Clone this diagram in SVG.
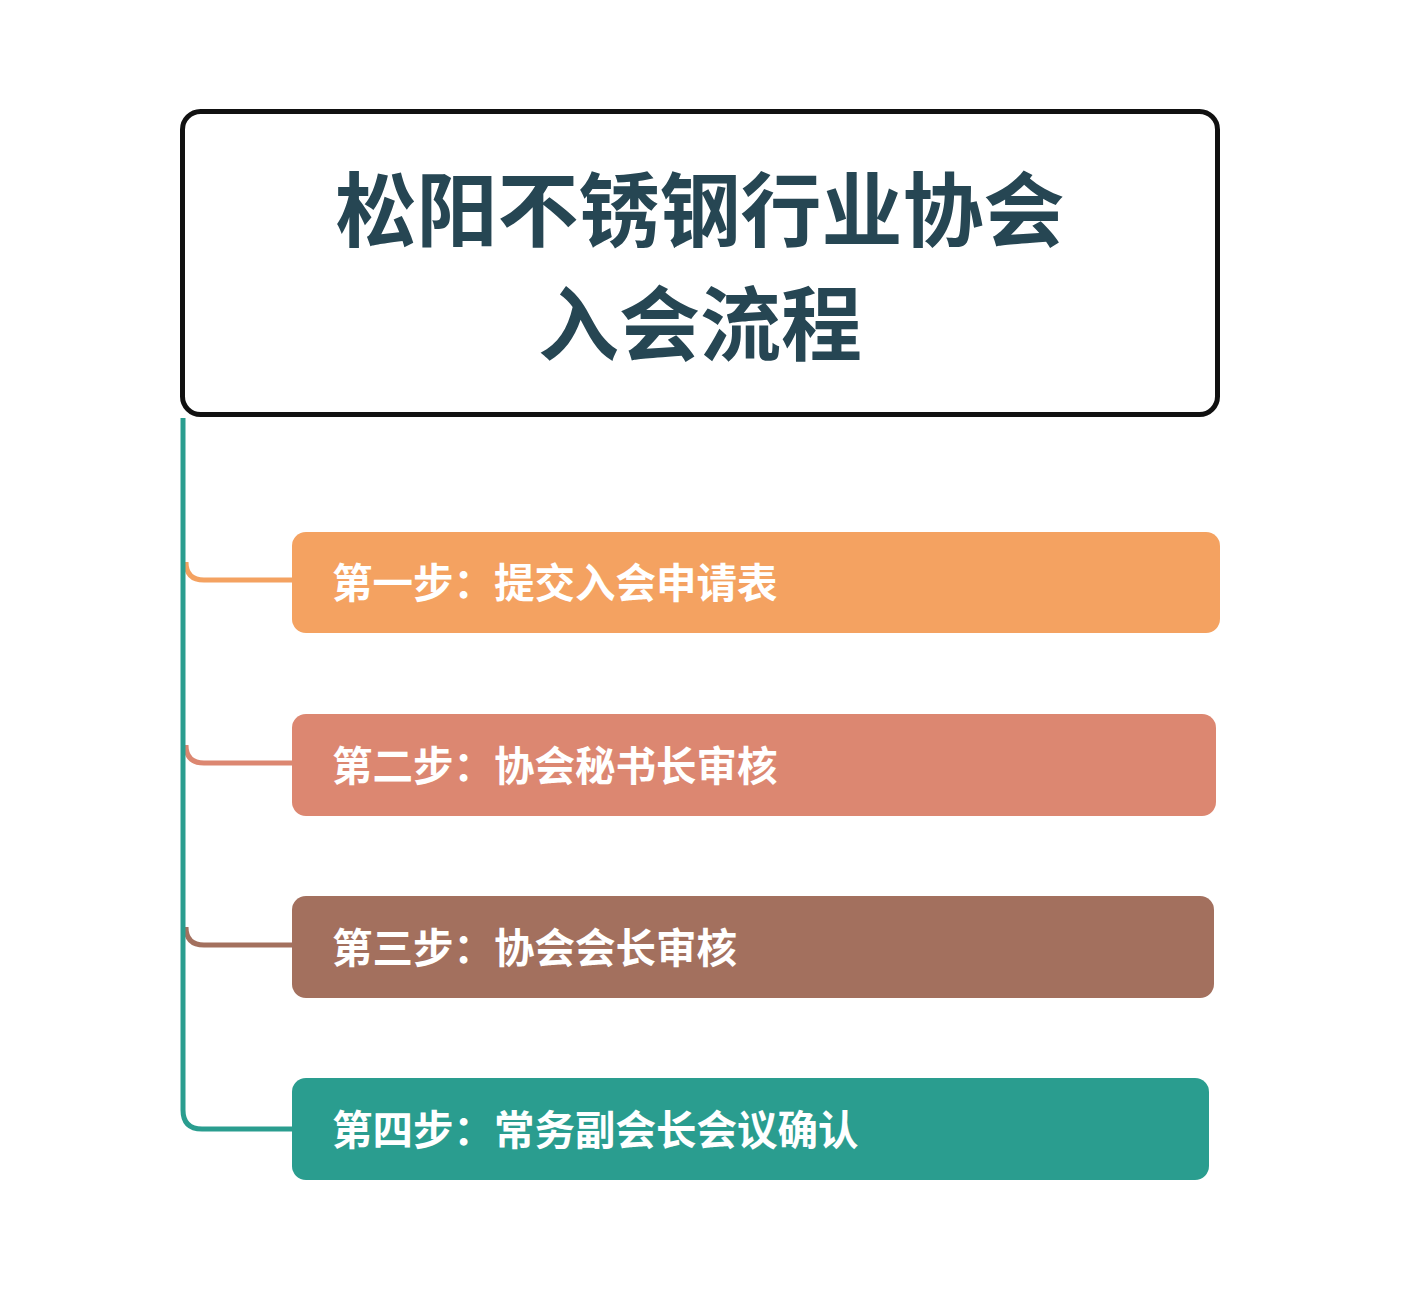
<svg xmlns="http://www.w3.org/2000/svg" width="1423" height="1300" viewBox="0 0 1423 1300">
<style>
.title{font-family:"Noto Sans CJK SC","Noto Sans CJK JP",sans-serif;font-weight:700;font-size:81px;fill:#264653;text-anchor:middle}
.lbl{font-family:"Noto Sans CJK SC","Noto Sans CJK JP",sans-serif;font-weight:700;font-size:40.5px;fill:#ffffff}
.c{fill:none;stroke-width:5;stroke-linecap:butt}
</style>
<rect width="1423" height="1300" fill="#ffffff"/>
<g id="connectors">
<path class="c" d="M186,562 Q186,580 204,580 L293,580" stroke="#f4a261"/>
<path class="c" d="M186,745 Q186,763 204,763 L293,763" stroke="#dc8771"/>
<path class="c" d="M186,927 Q186,945 204,945 L293,945" stroke="#a3705e"/>
<path class="c" d="M183,418 L183,1110 Q183,1129 202,1129 L293,1129" stroke="#2a9d8f" stroke-width="6"/>
</g>
<g id="root">
<rect x="182.5" y="111.5" width="1035" height="303" rx="18" fill="#ffffff" stroke="#111111" stroke-width="5"/>
<text class="title" x="700" y="240">松阳不锈钢行业协会</text>
<text class="title" x="700" y="354">入会流程</text>
</g>
<g id="step1">
<rect x="292" y="532" width="928" height="101" rx="14" fill="#f4a261"/>
<text class="lbl" x="332" y="598">第一步：提交入会申请表</text>
</g>
<g id="step2">
<rect x="292" y="714" width="924" height="102" rx="14" fill="#dc8771"/>
<text class="lbl" x="332" y="781">第二步：协会秘书长审核</text>
</g>
<g id="step3">
<rect x="292" y="896" width="922" height="102" rx="14" fill="#a3705e"/>
<text class="lbl" x="332" y="963">第三步：协会会长审核</text>
</g>
<g id="step4">
<rect x="292" y="1078" width="917" height="102" rx="14" fill="#2a9d8f"/>
<text class="lbl" x="332" y="1145">第四步：常务副会长会议确认</text>
</g>
</svg>
